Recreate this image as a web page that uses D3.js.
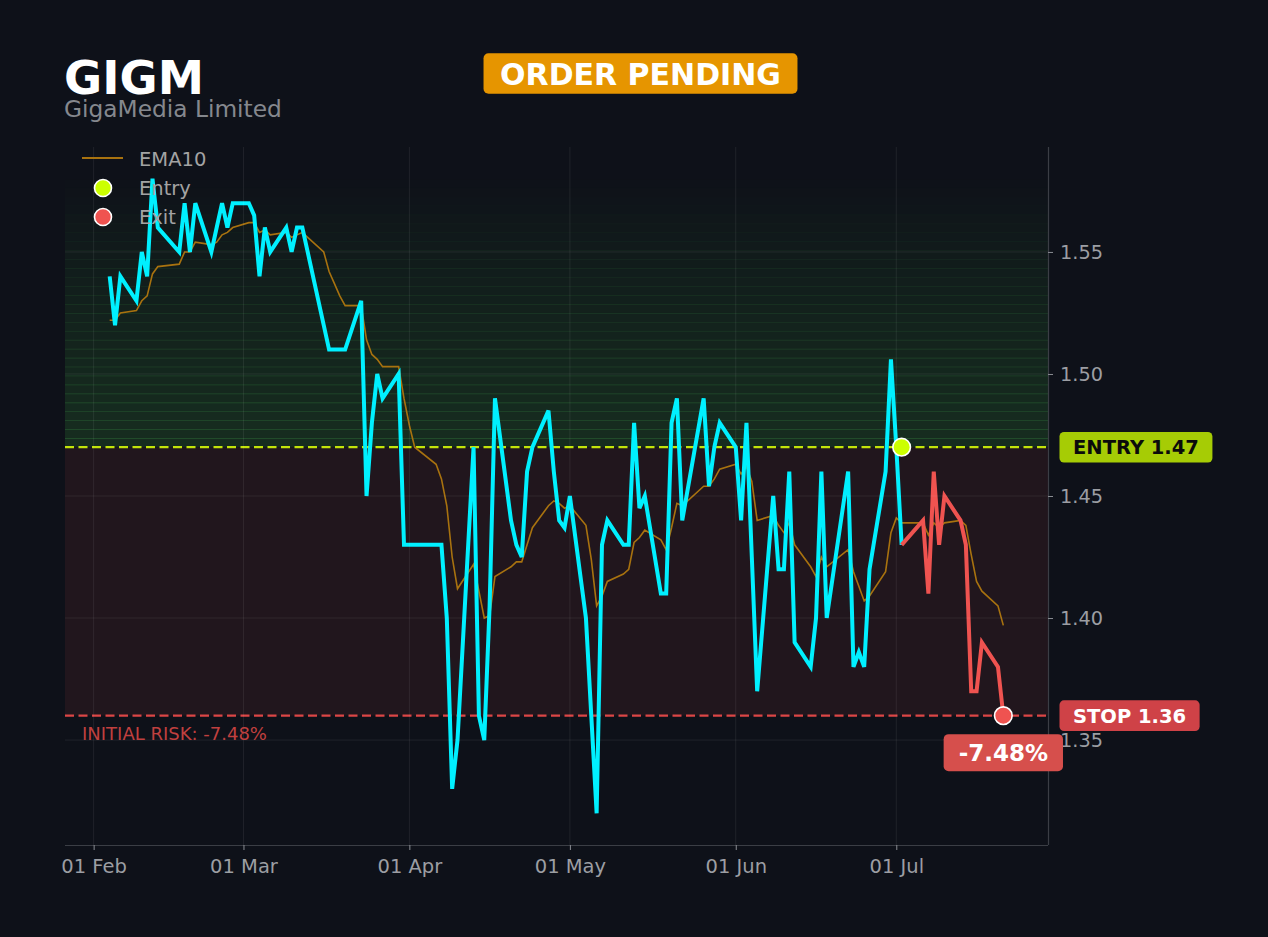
<!DOCTYPE html>
<html><head><meta charset="utf-8">
<script src="https://cdn.jsdelivr.net/npm/d3@7"></script>
<style>
html,body{margin:0;padding:0;background:#0e1119;}
svg{display:block;}
text{font-family:"DejaVu Sans",sans-serif;}
</style></head><body>
<svg id="chart" width="1268" height="937"></svg>
<script>
// ---------- data ----------
const ticker = "GIGM";
const companyName = "GigaMedia Limited";
const statusLabel = "ORDER PENDING";

const dates = [
"2026-02-04","2026-02-05","2026-02-06","2026-02-09","2026-02-10","2026-02-11","2026-02-12","2026-02-13","2026-02-17","2026-02-18","2026-02-19","2026-02-20","2026-02-23","2026-02-24","2026-02-25","2026-02-26","2026-02-27",
"2026-03-02","2026-03-03","2026-03-04","2026-03-05","2026-03-06","2026-03-09","2026-03-10","2026-03-11","2026-03-12","2026-03-13","2026-03-16","2026-03-17","2026-03-18","2026-03-19","2026-03-20","2026-03-23","2026-03-24","2026-03-25","2026-03-26","2026-03-27","2026-03-30","2026-03-31",
"2026-04-01","2026-04-02","2026-04-06","2026-04-07","2026-04-08","2026-04-09","2026-04-10","2026-04-13","2026-04-14","2026-04-15","2026-04-16","2026-04-17","2026-04-20","2026-04-21","2026-04-22","2026-04-23","2026-04-24","2026-04-27","2026-04-28","2026-04-29","2026-04-30",
"2026-05-01","2026-05-04","2026-05-05","2026-05-06","2026-05-07","2026-05-08","2026-05-11","2026-05-12","2026-05-13","2026-05-14","2026-05-15","2026-05-18","2026-05-19","2026-05-20","2026-05-21","2026-05-22","2026-05-26","2026-05-27","2026-05-28","2026-05-29",
"2026-06-01","2026-06-02","2026-06-03","2026-06-04","2026-06-05","2026-06-08","2026-06-09","2026-06-10","2026-06-11","2026-06-12","2026-06-15","2026-06-16","2026-06-17","2026-06-18","2026-06-22","2026-06-23","2026-06-24","2026-06-25","2026-06-26","2026-06-29","2026-06-30",
"2026-07-01","2026-07-02","2026-07-06","2026-07-07","2026-07-08","2026-07-09","2026-07-10","2026-07-13","2026-07-14","2026-07-15","2026-07-16","2026-07-17","2026-07-20","2026-07-21"
];

const closes = [
1.54,1.52,1.54,1.53,1.55,1.54,1.58,1.56,1.55,1.57,1.55,1.57,1.55,1.56,1.57,1.56,1.57,
1.57,1.565,1.54,1.56,1.55,1.56,1.55,1.56,1.56,1.55,1.52,1.51,1.51,1.51,1.51,1.53,1.45,1.48,1.50,1.49,1.50,1.43,
1.43,1.43,1.43,1.43,1.40,1.33,1.35,1.47,1.36,1.35,1.405,1.49,1.44,1.43,1.425,1.46,1.47,1.485,1.46,1.44,1.437,
1.45,1.40,1.36,1.32,1.43,1.44,1.43,1.43,1.48,1.445,1.45,1.41,1.41,1.48,1.49,1.44,1.49,1.454,1.47,1.48,
1.47,1.44,1.48,1.425,1.37,1.45,1.42,1.42,1.46,1.39,1.38,1.40,1.46,1.40,1.46,1.38,1.386,1.38,1.42,1.46,1.506,
1.47,1.43,1.44,1.41,1.46,1.43,1.45,1.44,1.43,1.37,1.37,1.39,1.38,1.36
];

const ema10 = [
1.522,1.522,1.525,1.526,1.530,1.532,1.541,1.544,1.545,1.550,1.550,1.554,1.553,1.554,1.557,1.558,1.560,
1.562,1.562,1.558,1.559,1.557,1.558,1.556,1.557,1.558,1.556,1.550,1.542,1.537,1.532,1.528,1.528,1.514,1.508,1.506,1.503,1.503,1.490,
1.479,1.470,1.463,1.457,1.446,1.425,1.412,1.422,1.411,1.400,1.401,1.417,1.421,1.423,1.423,1.430,1.437,1.446,1.448,1.447,1.445,
1.446,1.438,1.424,1.405,1.409,1.415,1.418,1.420,1.431,1.433,1.436,1.432,1.428,1.437,1.447,1.446,1.454,1.454,1.457,1.461,
1.463,1.459,1.462,1.456,1.440,1.442,1.438,1.435,1.439,1.430,1.421,1.417,1.425,1.421,1.428,1.419,1.413,1.407,1.409,1.419,1.435,
1.441,1.439,1.439,1.434,1.439,1.437,1.439,1.440,1.438,1.426,1.415,1.411,1.405,1.397
];

const entryDate = "2026-07-02";
const entryPrice = 1.47;
const exitDate = "2026-07-21";
const stopPrice = 1.36;
const riskPct = -7.48;

const yTickValues = [1.35, 1.40, 1.45, 1.50, 1.55];
const xTickDates = ["2026-02-01","2026-03-01","2026-04-01","2026-05-01","2026-06-01","2026-07-01"];
const legendLabels = ["EMA10", "Entry", "Exit"];

// ---------- setup ----------
const parse = d3.utcParse("%Y-%m-%d");
const rows = dates.map((d, i) => ({date: parse(d), close: closes[i], ema: ema10[i]}));
const entryD = parse(entryDate), exitD = parse(exitDate);

const W = 1268, H = 937;
const L = 65, R = 1048, T = 147, B = 845;
const BG = "#0e1119";

const svg = d3.select("#chart");
svg.append("rect").attr("width", W).attr("height", H).attr("fill", BG);

const dExt = d3.extent(rows, d => d.date);
const span = dExt[1] - dExt[0];
const x = d3.scaleUtc()
  .domain([new Date(+dExt[0] - span * 0.05), new Date(+dExt[1] + span * 0.05)])
  .range([L, R]);
const vMin = d3.min(closes), vMax = d3.max(closes);
const vPad = (vMax - vMin) * 0.05;
const y = d3.scaleLinear().domain([vMin - vPad, vMax + vPad]).range([B, T]);

svg.append("clipPath").attr("id", "plotclip")
  .append("rect").attr("x", L).attr("y", T).attr("width", R - L).attr("height", B - T);
const plot = svg.append("g").attr("clip-path", "url(#plotclip)");

// risk zone (entry -> stop)
plot.append("rect")
  .attr("x", L).attr("width", R - L)
  .attr("y", y(entryPrice)).attr("height", y(stopPrice) - y(entryPrice))
  .attr("fill", "#21161d");

// reward zone: fading green bands from entry up to the high
const nBands = 30;
const bandH = (vMax - entryPrice) / nBands;
const fillI = d3.interpolateRgb(BG, "#162c1f");
const lineI = d3.interpolateRgb(BG, "#25572f");
for (let i = 0; i < nBands; i++) {
  const lo = entryPrice + i * bandH, hi = lo + bandH;
  const t = i / nBands;
  const s = 1 - Math.pow(t, 1.25);
  plot.append("rect")
    .attr("x", L).attr("width", R - L)
    .attr("y", y(hi)).attr("height", y(lo) - y(hi))
    .attr("fill", fillI(s));
  plot.append("line")
    .attr("x1", L).attr("x2", R)
    .attr("y1", y(hi)).attr("y2", y(hi))
    .attr("stroke", lineI(Math.max(0, 1 - Math.pow((i + 1) / nBands, 1.25))))
    .attr("stroke-width", 1.4);
}

// grid
const grid = svg.append("g");
xTickDates.forEach(s => {
  const xx = x(parse(s));
  grid.append("line").attr("x1", xx).attr("x2", xx).attr("y1", T).attr("y2", B)
    .attr("stroke", "rgba(255,255,255,0.075)").attr("stroke-width", 1);
});
yTickValues.forEach(v => {
  grid.append("line").attr("x1", L).attr("x2", R).attr("y1", y(v)).attr("y2", y(v))
    .attr("stroke", "rgba(255,255,255,0.075)").attr("stroke-width", 1);
});

// axes
const xAxis = d3.axisBottom(x)
  .tickValues(xTickDates.map(parse))
  .tickFormat(d3.utcFormat("%d %b"))
  .tickSize(5).tickPadding(9);
const gx = svg.append("g").attr("transform", `translate(0,${B})`).call(xAxis);
gx.select(".domain").attr("stroke", "#3b3e45").attr("stroke-width", 1.2).attr("d", `M${L},0.5H${R}`);
gx.selectAll(".tick line").attr("stroke", "#8a8d93");
gx.selectAll(".tick text").attr("fill", "#9c9ea3").attr("font-size", 19.5)
  .attr("font-family", "DejaVu Sans");

const yAxis = d3.axisRight(y)
  .tickValues(yTickValues)
  .tickFormat(d3.format(".2f"))
  .tickSize(5).tickPadding(7);
const gy = svg.append("g").attr("transform", `translate(${R},0)`).call(yAxis);
gy.select(".domain").attr("stroke", "#3b3e45").attr("stroke-width", 1.2).attr("d", `M0.5,${T}V${B}`);
gy.selectAll(".tick line").attr("stroke", "#8a8d93");
gy.selectAll(".tick text").attr("fill", "#9c9ea3").attr("font-size", 19.3)
  .attr("font-family", "DejaVu Sans");

// legend (under the lines, as in the reference)
const lg = svg.append("g");
lg.append("line").attr("x1", 82).attr("x2", 123).attr("y1", 158).attr("y2", 158)
  .attr("stroke", "#a8720f").attr("stroke-width", 1.8);
lg.append("circle").attr("cx", 103).attr("cy", 188).attr("r", 8.5)
  .attr("fill", "#ccff00").attr("stroke", "#ffffff").attr("stroke-width", 1.6);
lg.append("circle").attr("cx", 103).attr("cy", 217).attr("r", 8.5)
  .attr("fill", "#ef5350").attr("stroke", "#ffffff").attr("stroke-width", 1.6);
[166, 195, 224].forEach((yy, i) => {
  lg.append("text").attr("x", 139).attr("y", yy).attr("font-size", 19.5)
    .attr("fill", "#a3a3a3").text(legendLabels[i]);
});

// entry / stop level lines
plot.append("line").attr("x1", L).attr("x2", R)
  .attr("y1", y(entryPrice)).attr("y2", y(entryPrice))
  .attr("stroke", "#c2e40a").attr("stroke-width", 2.3).attr("stroke-dasharray", "9,4.5");
plot.append("line").attr("x1", L).attr("x2", R)
  .attr("y1", y(stopPrice)).attr("y2", y(stopPrice))
  .attr("stroke", "#dc4646").attr("stroke-width", 2.3).attr("stroke-dasharray", "9,4.5");

svg.append("text").attr("x", 82).attr("y", y(stopPrice) + 24.5)
  .attr("font-size", 18).attr("fill", "#c0403f")
  .text(`INITIAL RISK: ${riskPct.toFixed(2)}%`);

// EMA10
const emaLine = d3.line().x(d => x(d.date)).y(d => y(d.ema));
plot.append("path").datum(rows).attr("d", emaLine)
  .attr("fill", "none").attr("stroke", "#a8720f").attr("stroke-width", 1.6);

// price line before entry, and trade segment after
const pLine = d3.line().x(d => x(d.date)).y(d => y(d.close));
const pre = rows.filter(d => d.date <= entryD);
const post = rows.filter(d => d.date >= entryD && d.date <= exitD);
plot.append("path").datum(pre).attr("d", pLine)
  .attr("fill", "none").attr("stroke", "#00f0ff").attr("stroke-width", 4)
  .attr("stroke-linejoin", "miter");
plot.append("path").datum(post).attr("d", pLine)
  .attr("fill", "none").attr("stroke", "#ef5350").attr("stroke-width", 4)
  .attr("stroke-linejoin", "miter");

// markers
svg.append("circle").attr("cx", x(entryD)).attr("cy", y(entryPrice)).attr("r", 8.8)
  .attr("fill", "#ccff00").attr("stroke", "#ffffff").attr("stroke-width", 1.6);
svg.append("circle").attr("cx", x(exitD)).attr("cy", y(stopPrice)).attr("r", 8.8)
  .attr("fill", "#ef5350").attr("stroke", "#ffffff").attr("stroke-width", 1.6);

// badges
function badge(cx, cy, h, text, size, fill, color, padX, anchorLeft, rx) {
  const g = svg.append("g");
  const r = g.append("rect").attr("fill", fill).attr("rx", rx).attr("ry", rx);
  const t = g.append("text").attr("font-size", size).attr("font-weight", "bold")
    .attr("fill", color).attr("text-anchor", "middle").attr("dominant-baseline", "central")
    .text(text);
  const w = t.node().getComputedTextLength() + padX * 2;
  const left = anchorLeft ? cx : cx - w / 2;
  r.attr("x", left).attr("y", cy - h / 2).attr("width", w).attr("height", h);
  t.attr("x", left + w / 2).attr("y", cy + 0.5);
}
badge(1059.5, y(entryPrice), 30.6, `ENTRY ${entryPrice.toFixed(2)}`, 19.5, "#a6cc05", "#0b0b0b", 13.5, true, 4.5);
badge(1059.5, y(stopPrice), 30.6, `STOP ${stopPrice.toFixed(2)}`, 19.5, "#cf4247", "#ffffff", 13.5, true, 4.5);
badge(x(exitD), y(stopPrice) + 37, 37, `${riskPct.toFixed(2)}%`, 23, "#d64f4c", "#ffffff", 15, false, 5);

// title block
svg.append("text").attr("x", 64).attr("y", 94).attr("font-size", 46.5).attr("font-weight", "bold")
  .attr("fill", "#ffffff").text(ticker);
svg.append("text").attr("x", 64).attr("y", 116.5).attr("font-size", 23.3)
  .attr("fill", "#85888e").text(companyName);
badge(640.5, 73.5, 40.4, statusLabel, 30, "#e69500", "#ffffff", 16.5, false, 5);
</script>
</body></html>
